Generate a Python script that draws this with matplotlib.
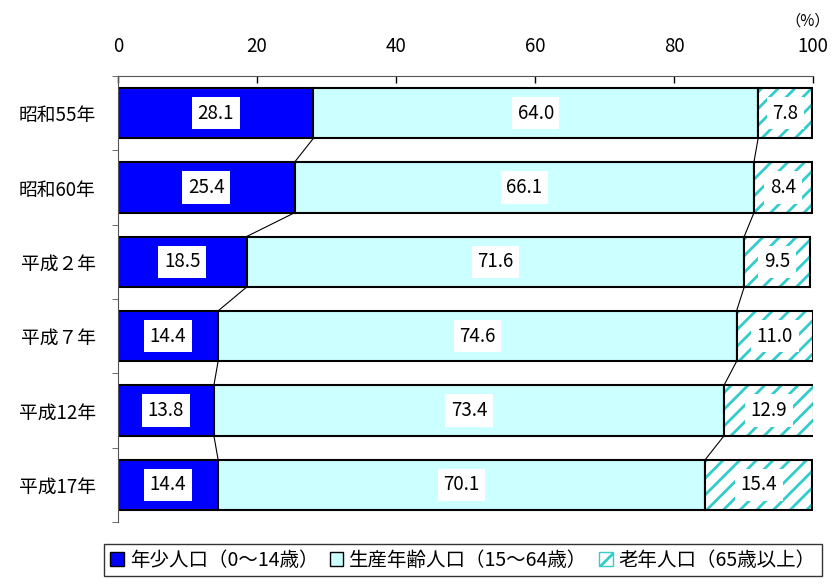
import matplotlib.pyplot as plt
import numpy as np
from matplotlib.patches import Patch

plt.rcParams['font.family'] = ['Noto Sans CJK JP', 'DejaVu Sans']

years = ['昭和55年', '昭和60年', '平成２年', '平成７年', '平成12年', '平成17年']
young = [28.1, 25.4, 18.5, 14.4, 13.8, 14.4]
working = [64.0, 66.1, 71.6, 74.6, 73.4, 70.1]
old = [7.8, 8.4, 9.5, 11.0, 12.9, 15.4]
series_names = ['年少人口（0～14歳）', '生産年齢人口（15～64歳）', '老年人口（65歳以上）']

c_young = '#0000ff'
c_work = '#ccffff'
c_hatch = '#33cccc'

fig = plt.figure(figsize=(8.34, 5.85), dpi=100)
ax = fig.add_axes([118/834, 1-522/585, 695/834, 446/585])

y = np.arange(len(years))
h = 0.68
young = np.array(young)
working = np.array(working)
old = np.array(old)

ax.barh(y, young, height=h, color=c_young, edgecolor='black', linewidth=1.5)
ax.barh(y, working, left=young, height=h, color=c_work, edgecolor='black', linewidth=1.5)
plt.rcParams['hatch.linewidth'] = 2.0
ax.barh(y, old, left=young+working, height=h, color='white', edgecolor=c_hatch,
        hatch='//', linewidth=0)
ax.barh(y, old, left=young+working, height=h, color='none', edgecolor='black', linewidth=1.5)

# series lines
for cum in [young, young+working]:
    for i in range(len(years)-1):
        ax.plot([cum[i], cum[i+1]], [i+h/2, i+1-h/2], color='black', linewidth=0.8)

box = dict(facecolor='white', edgecolor='none', pad=4)
for i in range(len(years)):
    ax.text(young[i]/2, i, f'{young[i]:.1f}', ha='center', va='center', fontsize=13.5, bbox=box)
    ax.text(young[i]+working[i]/2, i, f'{working[i]:.1f}', ha='center', va='center', fontsize=13.5, bbox=box)
    ax.text(young[i]+working[i]+old[i]/2, i, f'{old[i]:.1f}', ha='center', va='center', fontsize=13.5, bbox=box)

ax.set_xlim(0, 100)
ax.set_ylim(len(years)-0.5, -0.5)
ax.xaxis.tick_top()
ax.set_xticks([0, 20, 40, 60, 80, 100])
ax.tick_params(axis='x', direction='in', length=5, labelsize=13.5, pad=14, width=1)
ax.set_yticks(y)
ax.set_yticklabels(years, fontsize=13.5)
ax.tick_params(axis='y', which='major', length=0, pad=16)
ax.set_yticks(np.arange(-0.5, len(years), 1), minor=True)
ax.tick_params(axis='y', which='minor', direction='out', length=4, color='#555555')
for s in ['right', 'bottom']:
    ax.spines[s].set_visible(False)
ax.spines['top'].set_color('#555555')
ax.spines['left'].set_color('#555555')
ax.text(0.993, 1.105, '（%）', transform=ax.transAxes, ha='center', va='bottom', fontsize=11)

handles = [Patch(facecolor=c_young, edgecolor='black'),
           Patch(facecolor=c_work, edgecolor='black'),
           Patch(facecolor='white', edgecolor=c_hatch, hatch='//')]
leg = fig.legend(handles, series_names, loc='center', bbox_to_anchor=(463/834, 1-560/585),
                 ncol=3, fontsize=14, frameon=True, fancybox=False, edgecolor='black',
                 handlelength=0.7, handleheight=0.7, handletextpad=0.3, columnspacing=0.6,
                 borderpad=0.3)
leg.get_frame().set_linewidth(1)

fig.savefig('out.png', dpi=100)
